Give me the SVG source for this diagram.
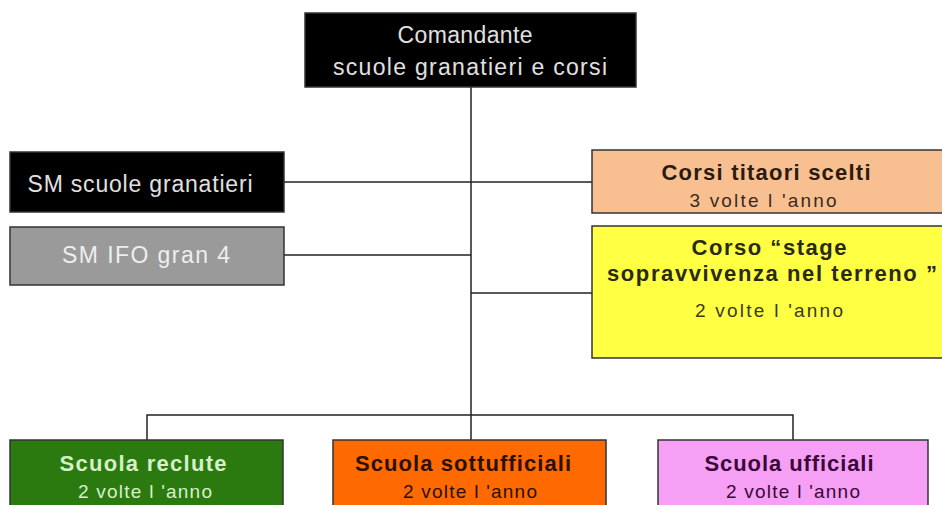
<svg xmlns="http://www.w3.org/2000/svg" width="942" height="505" viewBox="0 0 942 505">
<style>
.box{stroke:#333;stroke-width:1.5}
.t{font-family:"Liberation Sans",Arial,sans-serif;text-anchor:middle}
.b{font-weight:bold;font-size:22px}
.n{font-size:19px}
.w{font-size:23px}
.conn{stroke:#222;stroke-width:1.5;fill:none}
</style>
<rect width="942" height="505" fill="#fff"/>
<g id="connectors">
<line class="conn" x1="471" y1="87" x2="471" y2="440"/>
<line class="conn" x1="284" y1="182" x2="592" y2="182"/>
<line class="conn" x1="284" y1="255" x2="471" y2="255"/>
<line class="conn" x1="471" y1="293" x2="592" y2="293"/>
<polyline class="conn" points="147,440 147,415 793,415 793,440"/>
</g>
<g id="n-comandante">
<rect class="box" x="305" y="13" width="331" height="74" fill="#000"/>
<text class="t w" x="465" y="43" fill="#e0e0e0" textLength="135">Comandante</text>
<text class="t w" x="470" y="75" fill="#e0e0e0" textLength="274">scuole granatieri  e corsi</text>
</g>
<g id="n-sm-scuole">
<rect class="box" x="10" y="152" width="274" height="60" fill="#000"/>
<text class="t w" x="140" y="192" fill="#e0e0e0" textLength="225">SM scuole granatieri</text>
</g>
<g id="n-sm-ifo">
<rect class="box" x="10" y="227" width="274" height="58" fill="#9a9a9a"/>
<text class="t w" x="146" y="263" fill="#eeeeee" textLength="168">SM IFO gran 4</text>
</g>
<g id="n-corsi-tiratori">
<rect class="box" x="592" y="150" width="360" height="63" fill="#f8c090"/>
<text class="t b" x="766" y="180" fill="#2a1a10" textLength="209">Corsi titaori scelti</text>
<text class="t n" x="763" y="207" fill="#3a2a20" textLength="147">3 volte l 'anno</text>
</g>
<g id="n-corso-stage">
<rect class="box" x="592" y="226" width="360" height="132" fill="#ffff44"/>
<text class="t b" x="769" y="255" fill="#2a2a10" textLength="155">Corso “stage</text>
<text class="t b" x="772" y="281" fill="#2a2a10" textLength="330">sopravvivenza nel terreno ”</text>
<text class="t n" x="769" y="317" fill="#3a3a20" textLength="148">2 volte l 'anno</text>
</g>
<g id="n-reclute">
<rect class="box" x="10" y="440" width="273" height="70" fill="#2a7a10"/>
<text class="t b" x="143" y="471" fill="#d8f0c8" textLength="167">Scuola reclute</text>
<text class="t n" x="145" y="498" fill="#d8f0c8" textLength="134">2 volte l 'anno</text>
</g>
<g id="n-sottufficiali">
<rect class="box" x="333" y="440" width="273" height="70" fill="#ff6a00"/>
<text class="t b" x="463" y="471" fill="#2a1000" textLength="216">Scuola sottufficiali</text>
<text class="t n" x="470" y="498" fill="#2a1000" textLength="134">2 volte l 'anno</text>
</g>
<g id="n-ufficiali">
<rect class="box" x="658" y="440" width="270" height="70" fill="#f5a0f5"/>
<text class="t b" x="789" y="471" fill="#3a0838" textLength="169">Scuola ufficiali</text>
<text class="t n" x="793" y="498" fill="#3a0838" textLength="134">2 volte l 'anno</text>
</g>
</svg>
